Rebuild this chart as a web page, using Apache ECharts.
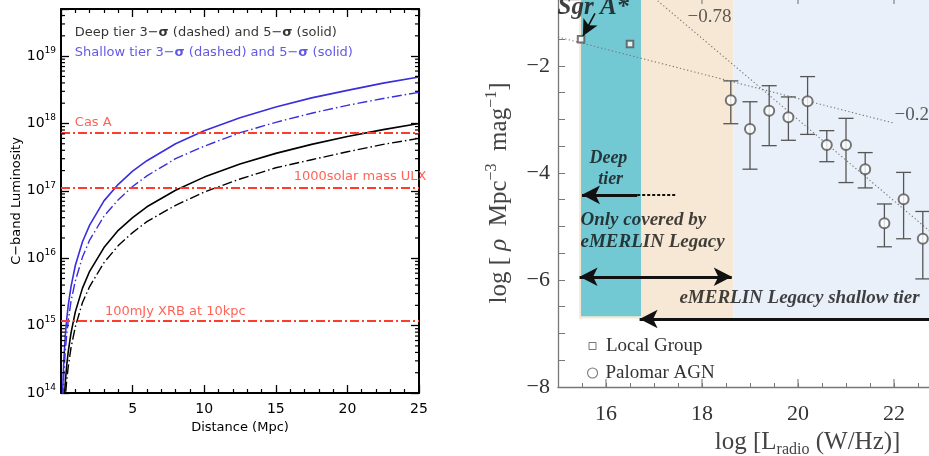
<!DOCTYPE html>
<html>
<head>
<meta charset="utf-8">
<script src="https://cdn.jsdelivr.net/npm/echarts@6.0.0/dist/echarts.min.js"></script>
<style>
html,body{margin:0;padding:0;background:#ffffff;}
#chart{width:929px;height:456px;}
</style>
</head>
<body>
<div id="chart"></div>
<script>
// ================= LEFT PANEL DATA =================
const distanceMpc   = [0.1, 0.15, 0.2, 0.3, 0.4, 0.5, 0.7, 1, 1.5, 2, 3, 4, 5, 6, 8, 10, 12.5, 15, 17.5, 20, 22.5, 25];
const shallow5sigma = [7.8e13, 1.76e14, 3.1e14, 7.1e14, 1.25e15, 1.96e15, 3.8e15, 7.8e15, 1.76e16, 3.1e16, 7.1e16, 1.25e17, 1.96e17, 2.8e17, 5.0e17, 7.8e17, 1.22e18, 1.76e18, 2.4e18, 3.1e18, 3.97e18, 4.9e18];
const shallow3sigma = [4.6e13, 1.04e14, 1.86e14, 4.2e14, 7.4e14, 1.16e15, 2.3e15, 4.6e15, 1.04e16, 1.86e16, 4.2e16, 7.4e16, 1.16e17, 1.67e17, 3.0e17, 4.6e17, 7.3e17, 1.04e18, 1.42e18, 1.86e18, 2.35e18, 2.9e18];
const deep5sigma    = [1.6e13, 3.6e13, 6.4e13, 1.44e14, 2.6e14, 4.0e14, 7.8e14, 1.6e15, 3.6e15, 6.4e15, 1.44e16, 2.6e16, 4.0e16, 5.8e16, 1.02e17, 1.6e17, 2.5e17, 3.6e17, 4.9e17, 6.4e17, 8.1e17, 1.0e18];
const deep3sigma    = [9.6e12, 2.2e13, 3.8e13, 8.6e13, 1.54e14, 2.4e14, 4.7e14, 9.6e14, 2.2e15, 3.8e15, 8.6e15, 1.54e16, 2.4e16, 3.5e16, 6.1e16, 9.6e16, 1.5e17, 2.2e17, 2.9e17, 3.8e17, 4.9e17, 6.0e17];
const refSourceNames = ['Cas A', '1000solar mass ULX', '100mJy XRB at 10kpc'];
const refSourceLum   = [7.4e17, 1.12e17, 1.18e15];
const legendLeftTexts = ['Deep tier 3−{g|σ} (dashed) and 5−{g|σ} (solid)', 'Shallow tier 3−{g|σ} (dashed) and 5−{g|σ} (solid)'];
const lumTickExponents = [14, 15, 16, 17, 18, 19];
const lumAxisMin = 1e14, lumAxisMax = 5e19;
const distanceTicks = [5, 10, 15, 20, 25];

// ================= RIGHT PANEL DATA =================
const localGroupLogL   = [15.48, 16.5];
const localGroupLogRho = [-1.50, -1.59];
const palomarLogL   = [18.6, 19.0, 19.4, 19.8, 20.2, 20.6, 21.0, 21.4, 21.8, 22.2, 22.6];
const palomarLogRho = [-2.64, -3.18, -2.84, -2.96, -2.66, -3.48, -3.48, -3.93, -4.94, -4.49, -5.23];
const palomarUpper  = [-2.28, -2.67, -2.37, -2.58, -2.20, -3.21, -2.98, -3.62, -4.58, -3.99, -4.72];
const palomarLower  = [-3.08, -3.93, -3.49, -3.39, -3.28, -3.79, -4.18, -4.28, -5.38, -5.23, -5.98];
const fitShallowL   = [15.0, 22.0];
const fitShallowRho = [-1.46, -3.07];
const fitSteepL     = [16.9, 23.5];
const fitSteepRho   = [-0.65, -5.66];
const fitSlopeLabels = ['−0.78', '−0.2'];
const deepTierRange     = [15.48, 16.73];
const legacyOnlyRange   = [15.44, 18.65];
const shallowTierRange  = [18.65, 25.4];
const radioTicks = [16, 18, 20, 22];
const rhoTicks   = [-2, -4, -6, -8];

// ================= STYLE =================
const SANS = 'DejaVu Sans';
const SERIF = 'Liberation Serif';
const BLUE = '#3a2edd';
const RED = '#ff3b2c';
const GRAY = '#555555';
const AXGRAY = '#777777';

function pairs(xs, ys) { return xs.map((x, i) => [x, ys[i]]); }
function isPow10(v) { const e = Math.log10(v); return Math.abs(e - Math.round(e)) < 1e-6; }
function near(list, v) { return list.some(t => Math.abs(t - v) < 1e-9); }

const minorLum = [];
lumTickExponents.forEach(e => {
  for (let m = 2; m <= 9; m++) { const v = m * Math.pow(10, e); if (v <= lumAxisMax) minorLum.push(v); }
});

function txt(x, y, text, label) {
  return { value: [x, y], label: Object.assign({ show: true, formatter: () => text, position: [0, 0] }, label) };
}

const legRich = (color) => ({
  fontFamily: SANS, fontSize: 13, color: color,
  rich: { g: { fontFamily: SANS, fontSize: 13, fontWeight: 'bold', color: color } }
});
const bi = { fontFamily: SERIF, fontWeight: 'bold', fontStyle: 'italic', color: '#111111', fontSize: 19 };

const chart = echarts.init(document.getElementById('chart'), null, { renderer: 'canvas' });

const blackAxis = { show: true, onZero: false, lineStyle: { color: '#000', width: 2 } };
const grayAxis = { show: true, onZero: false, lineStyle: { color: AXGRAY, width: 1.3 } };

const option = {
  animation: false,
  backgroundColor: '#ffffff',
  grid: [
    { left: 61, top: 9, width: 358, height: 384, outerBoundsMode: 'none', containLabel: false },
    { left: 558, top: -1, width: 499.2, height: 388, outerBoundsMode: 'none', containLabel: false }
  ],
  legend: [
    { data: [{ name: 'Local Group', icon: 'rect', itemStyle: { color: '#fff', borderColor: GRAY, borderWidth: 1 } }],
      left: 583.5, top: 330, itemWidth: 7, itemHeight: 7, selectedMode: false,
      textStyle: { fontFamily: SERIF, fontSize: 19, color: '#333', lineHeight: 22, padding: [0, 0, 0, 5] } },
    { data: [{ name: 'Palomar AGN', icon: 'circle', itemStyle: { color: '#fff', borderColor: GRAY, borderWidth: 1.1 } }],
      left: 582, top: 357, itemWidth: 10, itemHeight: 10, selectedMode: false,
      textStyle: { fontFamily: SERIF, fontSize: 19, color: '#333', lineHeight: 22, padding: [0, 0, 0, 3] } }
  ],
  xAxis: [
    { gridIndex: 0, type: 'value', min: 0, max: 25, interval: 5, position: 'bottom',
      axisLine: blackAxis,
      axisTick: { inside: true, length: 8, lineStyle: { color: '#000', width: 1.3 } },
      minorTick: { show: true, splitNumber: 5, length: 4, lineStyle: { color: '#000', width: 1.2 } },
      splitLine: { show: false }, minorSplitLine: { show: false },
      axisLabel: { showMinLabel: false, margin: 9, fontFamily: SANS, fontSize: 14, color: '#000',
        formatter: v => near(distanceTicks, v) ? String(v) : '' },
      name: 'Distance (Mpc)', nameLocation: 'middle', nameGap: 25,
      nameTextStyle: { fontFamily: SANS, fontSize: 13, color: '#000' } },
    { gridIndex: 0, type: 'value', min: 0, max: 25, interval: 5, position: 'top',
      axisLine: blackAxis,
      axisTick: { inside: true, length: 8, lineStyle: { color: '#000', width: 1.3 } },
      minorTick: { show: true, splitNumber: 5, length: 4, lineStyle: { color: '#000', width: 1.2 } },
      splitLine: { show: false }, axisLabel: { show: false } },
    { gridIndex: 1, type: 'value', min: 15, max: 25.4, interval: 0.5, position: 'bottom',
      axisLine: grayAxis,
      axisTick: { inside: true, length: 4, lineStyle: { color: AXGRAY, width: 1 } },
      splitLine: { show: false },
      axisLabel: { interval: 0, margin: 16, fontFamily: SERIF, fontSize: 22, color: '#333',
        formatter: v => near(radioTicks, v) ? String(v) : '' },
      name: '{n|log [L}{u|radio}{n| (W/Hz)]}', nameLocation: 'middle', nameGap: 35,
      nameTextStyle: { fontFamily: SERIF, fontSize: 25, color: '#444',
        rich: { n: { fontFamily: SERIF, fontSize: 25, lineHeight: 30, color: '#444' },
                u: { fontFamily: SERIF, fontSize: 16, lineHeight: 16, verticalAlign: 'bottom', color: '#444' } } } },
    { gridIndex: 1, type: 'value', min: 15, max: 25.4, interval: 0.5, position: 'top',
      axisLine: grayAxis,
      axisTick: { inside: true, length: 2.5, lineStyle: { color: AXGRAY, width: 1 } },
      splitLine: { show: false }, axisLabel: { show: false } }
  ],
  yAxis: [
    { gridIndex: 0, type: 'log', logBase: 10, min: lumAxisMin, max: lumAxisMax, position: 'left',
      axisLine: blackAxis,
      axisTick: { inside: true, length: 8, lineStyle: { color: '#000', width: 1.3 } },
      splitLine: { show: false },
      axisLabel: { margin: 5,
        formatter: v => isPow10(v) ? '{b|10}{s|' + Math.round(Math.log10(v)) + '}' : '',
        rich: { b: { fontFamily: SANS, fontSize: 14, lineHeight: 20, color: '#000' },
                s: { fontFamily: SANS, fontSize: 9, lineHeight: 9, verticalAlign: 'top', color: '#000' } } },
      name: 'C−band Luminosity', nameLocation: 'middle', nameGap: 38, nameRotate: 90,
      nameTextStyle: { fontFamily: SANS, fontSize: 13, color: '#000' } },
    { gridIndex: 0, type: 'log', logBase: 10, min: lumAxisMin, max: lumAxisMax, position: 'right',
      axisLine: blackAxis,
      axisTick: { inside: true, length: 8, lineStyle: { color: '#000', width: 1.3 } },
      splitLine: { show: false }, axisLabel: { show: false } },
    { gridIndex: 1, type: 'value', min: -8, max: -0.75, interval: 0.5, position: 'left',
      axisLine: grayAxis,
      axisTick: { inside: true, length: 7, lineStyle: { color: AXGRAY, width: 1 } },
      splitLine: { show: false },
      axisLabel: { interval: 0, margin: 8, fontFamily: SERIF, fontSize: 22, color: '#333',
        formatter: v => near(rhoTicks, v) ? '−' + Math.abs(v) : '' },
      name: '{n|log [ }{i|ρ}{n|  Mpc}{s|−3}{n|  mag}{s|−1}{n|]}', nameLocation: 'middle', nameGap: 44, nameRotate: 90,
      nameTextStyle: { fontFamily: SERIF, fontSize: 25, color: '#444',
        rich: { n: { fontFamily: SERIF, fontSize: 25, lineHeight: 30, color: '#444' },
                i: { fontFamily: SERIF, fontStyle: 'italic', fontSize: 25, lineHeight: 30, color: '#444' },
                s: { fontFamily: SERIF, fontSize: 16, lineHeight: 16, verticalAlign: 'top', color: '#444' } } } }
  ],
  series: [
    // ---------- left panel ----------
    { type: 'custom', name: 'minorLogTicks', xAxisIndex: 0, yAxisIndex: 0, silent: true, clip: false, z: 5,
      data: minorLum.map(v => [1, v]),
      renderItem: (params, api) => {
        const cs = params.coordSys;
        const y = api.coord([1, api.value(1)])[1];
        const st = { stroke: '#000', lineWidth: 1.2 };
        return { type: 'group', children: [
          { type: 'line', shape: { x1: cs.x, y1: y, x2: cs.x + 4, y2: y }, style: st },
          { type: 'line', shape: { x1: cs.x + cs.width - 4, y1: y, x2: cs.x + cs.width, y2: y }, style: st }
        ] };
      } },
    { type: 'line', name: 'Shallow 5σ', xAxisIndex: 0, yAxisIndex: 0, data: pairs(distanceMpc, shallow5sigma),
      symbol: 'none', lineStyle: { color: BLUE, width: 1.6 }, z: 3 },
    { type: 'line', name: 'Shallow 3σ', xAxisIndex: 0, yAxisIndex: 0, data: pairs(distanceMpc, shallow3sigma),
      symbol: 'none', lineStyle: { color: BLUE, width: 1.4, type: [10, 3, 1.5, 3] }, z: 3 },
    { type: 'line', name: 'Deep 5σ', xAxisIndex: 0, yAxisIndex: 0, data: pairs(distanceMpc, deep5sigma),
      symbol: 'none', lineStyle: { color: '#000', width: 1.6 }, z: 3,
      markLine: { silent: true, symbol: ['none', 'none'], label: { show: false },
        lineStyle: { color: RED, width: 2, type: [9, 3, 2, 3] },
        data: refSourceLum.map(v => ({ yAxis: v })) } },
    { type: 'line', name: 'Deep 3σ', xAxisIndex: 0, yAxisIndex: 0, data: pairs(distanceMpc, deep3sigma),
      symbol: 'none', lineStyle: { color: '#000', width: 1.4, type: [10, 3, 1.5, 3] }, z: 3 },
    { type: 'scatter', name: 'leftText', xAxisIndex: 0, yAxisIndex: 0, silent: true, clip: false, z: 6,
      symbolSize: 1, itemStyle: { color: 'rgba(0,0,0,0)' },
      data: [
        txt(1.0, 2.2e19, legendLeftTexts[0], Object.assign({ align: 'left', verticalAlign: 'middle' }, legRich('#000'))),
        txt(1.0, 1.1e19, legendLeftTexts[1], Object.assign({ align: 'left', verticalAlign: 'middle' }, legRich(BLUE))),
        txt(1.0, 1.0e18, refSourceNames[0], { align: 'left', verticalAlign: 'middle', fontFamily: SANS, fontSize: 13, color: RED }),
        txt(25.56, 1.58e17, refSourceNames[1], { align: 'right', verticalAlign: 'middle', fontFamily: SANS, fontSize: 13, color: RED }),
        txt(3.1, 1.6e15, refSourceNames[2], { align: 'left', verticalAlign: 'middle', fontFamily: SANS, fontSize: 13, color: RED })
      ] },

    // ---------- right panel ----------
    { type: 'line', name: 'bands', xAxisIndex: 2, yAxisIndex: 2, data: [[15, -8]], symbol: 'none',
      lineStyle: { opacity: 0 }, z: 1, silent: true,
      markArea: { silent: true, label: { show: false },
        data: [
          [{ coord: [legacyOnlyRange[0], -6.72], itemStyle: { color: '#f7e8d5' } }, { coord: [legacyOnlyRange[1], -0.75] }],
          [{ coord: [shallowTierRange[0], -6.74], itemStyle: { color: '#eaf0f9' } }, { coord: [shallowTierRange[1], -0.75] }],
          [{ coord: [deepTierRange[0], -6.68], itemStyle: { color: '#72c9d4' } }, { coord: [deepTierRange[1], -0.75] }]
        ] } },
    { type: 'line', name: 'fitShallow', xAxisIndex: 2, yAxisIndex: 2, data: pairs(fitShallowL, fitShallowRho),
      symbol: 'none', lineStyle: { color: '#777', width: 1.1, type: [1.3, 2.4] }, z: 2, silent: true },
    { type: 'line', name: 'fitSteep', xAxisIndex: 2, yAxisIndex: 2, data: pairs(fitSteepL, fitSteepRho),
      symbol: 'none', lineStyle: { color: '#777', width: 1.1, type: [1.3, 2.4] }, z: 2, silent: true },
    { type: 'custom', name: 'errorBars', xAxisIndex: 2, yAxisIndex: 2, silent: true, z: 3,
      data: palomarLogL.map((x, i) => [x, palomarLower[i], palomarUpper[i]]),
      renderItem: (params, api) => {
        const x = api.value(0);
        const pLo = api.coord([x, api.value(1)]), pHi = api.coord([x, api.value(2)]);
        const w = 7.5, st = { stroke: GRAY, lineWidth: 1.3 };
        return { type: 'group', children: [
          { type: 'line', shape: { x1: pHi[0], y1: pHi[1], x2: pLo[0], y2: pLo[1] }, style: st },
          { type: 'line', shape: { x1: pHi[0] - w, y1: pHi[1], x2: pHi[0] + w, y2: pHi[1] }, style: st },
          { type: 'line', shape: { x1: pLo[0] - w, y1: pLo[1], x2: pLo[0] + w, y2: pLo[1] }, style: st }
        ] };
      } },
    { type: 'custom', name: 'majorRadioTicks', xAxisIndex: 2, yAxisIndex: 2, silent: true, clip: false, z: 4,
      data: radioTicks.map(v => [v, -8]),
      renderItem: (params, api) => {
        const cs = params.coordSys;
        const x = api.coord([api.value(0), -8])[0];
        const st = { stroke: AXGRAY, lineWidth: 1.1 };
        return { type: 'group', children: [
          { type: 'line', shape: { x1: x, y1: cs.y + cs.height, x2: x, y2: cs.y + cs.height - 8 }, style: st },
          { type: 'line', shape: { x1: x, y1: cs.y, x2: x, y2: cs.y + 5 }, style: st }
        ] };
      } },
    { type: 'scatter', name: 'Palomar AGN', xAxisIndex: 2, yAxisIndex: 2, data: pairs(palomarLogL, palomarLogRho),
      symbol: 'emptyCircle', symbolSize: 10, itemStyle: { color: GRAY, borderWidth: 1.2 }, z: 4 },
    { type: 'scatter', name: 'Local Group', xAxisIndex: 2, yAxisIndex: 2, data: pairs(localGroupLogL, localGroupLogRho),
      symbol: 'emptyRect', symbolSize: 6.5, itemStyle: { color: GRAY, borderWidth: 1 }, z: 4 },
    { type: 'line', name: 'arrows', xAxisIndex: 2, yAxisIndex: 2, data: [[15, -8]], symbol: 'none',
      lineStyle: { opacity: 0 }, z: 6, silent: true,
      markLine: { silent: true, label: { show: false }, symbol: ['none', 'none'],
        data: [
          [{ coord: [15.77, -1.02], symbol: 'none' }, { coord: [15.52, -1.44], symbol: 'arrow', symbolSize: [12, 16] , lineStyle: { color: '#111', width: 1.6, type: 'solid' } }],
          [{ coord: [16.65, -4.41], symbol: 'none' }, { coord: [15.5, -4.41], symbol: 'arrow', symbolSize: [14, 18], lineStyle: { color: '#111', width: 3, type: 'solid' } }],
          [{ coord: [16.65, -4.41], symbol: 'none' }, { coord: [17.48, -4.41], symbol: 'none', lineStyle: { color: '#111', width: 1.8, type: [3, 2] } }],
          [{ coord: [15.45, -5.94], symbol: 'arrow', symbolSize: [14, 18] }, { coord: [18.62, -5.94], symbol: 'arrow', symbolSize: [14, 18], lineStyle: { color: '#111', width: 3, type: 'solid' } }],
          [{ coord: [16.7, -6.73], symbol: 'arrow', symbolSize: [14, 18] }, { coord: [25.4, -6.73], symbol: 'none', lineStyle: { color: '#111', width: 3, type: 'solid' } }]
        ] } },
    { type: 'scatter', name: 'rightText', xAxisIndex: 2, yAxisIndex: 2, silent: true, clip: false, z: 7,
      symbolSize: 1, itemStyle: { color: 'rgba(0,0,0,0)' },
      data: [
        txt(15.0, -0.92, 'Sgr A*', Object.assign({}, bi, { fontSize: 25, align: 'left', verticalAlign: 'middle' })),
        txt(16.06, -3.93, 'Deep\n tier', Object.assign({}, bi, { fontSize: 18, align: 'center', verticalAlign: 'middle', lineHeight: 21 })),
        txt(15.48, -5.10, 'Only covered by\neMERLIN Legacy', Object.assign({}, bi, { align: 'left', verticalAlign: 'middle', lineHeight: 22 })),
        txt(17.54, -6.34, 'eMERLIN Legacy shallow tier', Object.assign({}, bi, { align: 'left', verticalAlign: 'middle' })),
        txt(17.71, -1.10, fitSlopeLabels[0], { align: 'left', verticalAlign: 'middle', fontFamily: SERIF, fontSize: 19, color: '#333' }),
        txt(22.02, -2.92, fitSlopeLabels[1], { align: 'left', verticalAlign: 'middle', fontFamily: SERIF, fontSize: 19, color: '#333' })
      ] }
  ]
};
chart.setOption(option);
</script>
</body>
</html>
